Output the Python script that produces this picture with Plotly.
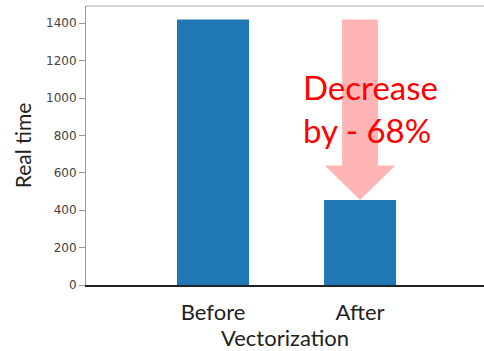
import plotly.graph_objects as go

# Run time before and after vectorizing the computation
stages = ["Before", "After"]
real_time = [1420, 455]
y_ticks = [0, 200, 400, 600, 800, 1000, 1200, 1400]

before, after = real_time
pct = round((1 - after / before) * 100)

BAR_COLOR = "#1f77b4"
SLIDE_FONT = "Lato"
TICK_FONT = "DejaVu Sans"

fig = go.Figure(
    go.Bar(x=stages, y=real_time, width=0.49, marker=dict(color=BAR_COLOR, line=dict(width=0)))
)

# Big downward arrow from the "Before" level down to the "After" bar
xc = stages.index("After")
shaft_hw, head_hw = 0.122, 0.24
head_h = 0.13 * before
top, tip = before, after
head_base = tip + head_h
path = (
    f"M {xc - shaft_hw},{top} L {xc + shaft_hw},{top} L {xc + shaft_hw},{head_base} "
    f"L {xc + head_hw},{head_base} L {xc},{tip} L {xc - head_hw},{head_base} "
    f"L {xc - shaft_hw},{head_base} Z"
)
fig.add_shape(type="path", path=path, xref="x", yref="y",
              fillcolor="rgba(255,120,120,0.55)", line=dict(width=0), layer="above")

fig.add_annotation(
    x=xc - 0.40, y=945, xref="x", yref="y", xanchor="left", yanchor="middle",
    text=f"Decrease<br>by - {pct}%", showarrow=False, align="left",
    font=dict(family=SLIDE_FONT, size=33, color="#ff0000"),
)

# Light frame line along the top of the plot
fig.add_shape(type="line", xref="paper", yref="paper", x0=0, x1=1, y0=1, y1=1,
              line=dict(color="#aaaaaa", width=1))

fig.update_layout(
    width=484, height=351,
    margin=dict(l=86, r=0, t=6, b=66),
    paper_bgcolor="white", plot_bgcolor="white",
    showlegend=False,
    xaxis=dict(
        range=[-0.864, 1.843], showline=True, linecolor="#222222", linewidth=2,
        ticks="", showgrid=False, zeroline=False, ticklabelstandoff=7, automargin=False,
        tickfont=dict(family=SLIDE_FONT, size=22, color="#222222"),
        title=dict(text="Vectorization", standoff=12,
                   font=dict(family=SLIDE_FONT, size=22, color="#222222")),
    ),
    yaxis=dict(
        range=[0, 1492], tickvals=y_ticks, showline=True, linecolor="#999999", linewidth=1,
        ticks="outside", ticklen=6, tickcolor="#999999", showgrid=False, zeroline=False,
        tickfont=dict(family=TICK_FONT, size=12, color="#444444"),
        title=dict(text="Real time", standoff=8,
                   font=dict(family=SLIDE_FONT, size=21, color="#222222")),
    ),
)

fig.write_html("out.html")
